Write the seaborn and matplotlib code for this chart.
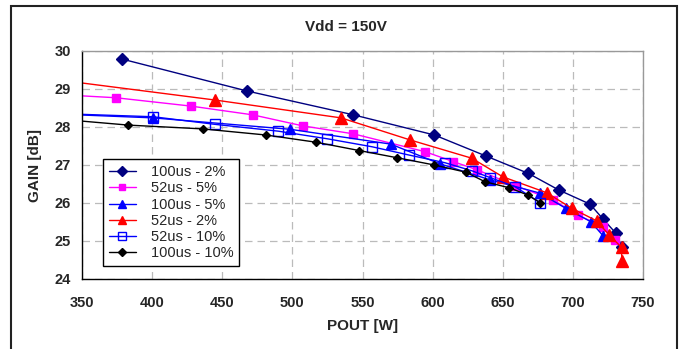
import matplotlib
matplotlib.use("Agg")
import matplotlib.pyplot as plt
import seaborn as sns
import pandas as pd
from matplotlib.patches import Rectangle

# ---- data ----
pout_100us_2 = [378.3, 467.4, 543.5, 601.2, 637.8, 668.2, 690.1, 712.2, 721.7, 730.8, 734.8]
gain_100us_2 = [29.79, 28.95, 28.32, 27.79, 27.24, 26.78, 26.34, 25.97, 25.57, 25.20, 24.85]

pout_52us_5 = [330.0, 374.2, 427.7, 471.7, 507.4, 543.5, 594.6, 614.7, 631.9, 659.5, 686.0, 703.6, 721.3, 730.0]
gain_52us_5 = [28.86, 28.77, 28.55, 28.32, 28.03, 27.82, 27.35, 27.09, 26.87, 26.45, 26.08, 25.68, 25.38, 25.02]

pout_100us_5 = [320.0, 400.8, 498.3, 570.1, 605.3, 640.9, 676.6, 694.9, 712.7, 721.7]
gain_100us_5 = [28.36, 28.24, 27.94, 27.55, 27.03, 26.61, 26.26, 25.86, 25.51, 25.13]

pout_52us_2 = [320.0, 444.8, 534.7, 583.9, 627.8, 650.0, 681.3, 699.2, 717.0, 725.8, 734.8, 734.8]
gain_52us_2 = [29.30, 28.71, 28.24, 27.66, 27.18, 26.69, 26.27, 25.86, 25.53, 25.16, 24.83, 24.47]

pout_52us_10 = [320.0, 400.8, 444.8, 490.0, 524.9, 556.8, 583.4, 608.8, 627.8, 640.9, 658.7, 676.6]
gain_52us_10 = [28.37, 28.27, 28.07, 27.89, 27.69, 27.48, 27.26, 27.06, 26.85, 26.67, 26.43, 26.01]

pout_100us_10 = [320.0, 383.0, 436.1, 481.0, 516.8, 547.7, 574.8, 601.2, 623.8, 637.3, 654.7, 667.8, 676.6]
gain_100us_10 = [28.25, 28.05, 27.95, 27.79, 27.60, 27.38, 27.19, 27.00, 26.81, 26.56, 26.40, 26.21, 26.01]

series_names = ["100us - 2%", "52us - 5%", "100us - 5%", "52us - 2%", "52us - 10%", "100us - 10%"]
x_ticks = [350, 400, 450, 500, 550, 600, 650, 700, 750]
y_ticks = [24, 25, 26, 27, 28, 29, 30]

frames = []
for name, xs, ys in zip(series_names,
                        [pout_100us_2, pout_52us_5, pout_100us_5, pout_52us_2, pout_52us_10, pout_100us_10],
                        [gain_100us_2, gain_52us_5, gain_100us_5, gain_52us_2, gain_52us_10, gain_100us_10]):
    frames.append(pd.DataFrame({"series": name, "POUT": xs, "GAIN": ys}))
df = pd.concat(frames, ignore_index=True)

styles = {
    "100us - 2%": dict(color="#000080", marker="D", ms=6, mfc="#000080", mec="#000080"),
    "52us - 5%": dict(color="#FF00FF", marker="s", ms=6, mfc="#FF00FF", mec="#FF00FF"),
    "100us - 5%": dict(color="#0000FF", marker="^", ms=6.5, mfc="#0000FF", mec="#0000FF"),
    "52us - 2%": dict(color="#FF0000", marker="^", ms=8, mfc="#FF0000", mec="#FF0000"),
    "52us - 10%": dict(color="#0000FF", marker="s", ms=6.5, mfc="none", mec="#0000FF"),
    "100us - 10%": dict(color="#000000", marker="D", ms=4.5, mfc="#000000", mec="#000000"),
}

sns.set_theme(style="white")
plt.rcParams["font.family"] = ["Liberation Sans", "DejaVu Sans"]

fig = plt.figure(figsize=(6.83, 3.49), dpi=100)
ax = fig.add_axes([82 / 683, 70 / 349, 561 / 683, 228 / 349])

for name in series_names:
    st = styles[name]
    sub = df[df["series"] == name]
    sns.lineplot(data=sub, x="POUT", y="GAIN", ax=ax, sort=False, estimator=None,
                 color=st["color"], marker=st["marker"], markersize=st["ms"],
                 markerfacecolor=st["mfc"], markeredgecolor=st["mec"], markeredgewidth=1.0,
                 linewidth=1.0, label=name)

ax.set_xlim(350, 750)
ax.set_ylim(24, 30)
ax.set_xticks(x_ticks)
ax.set_yticks(y_ticks)
ax.set_xticklabels([str(v) for v in x_ticks], fontweight="bold", fontsize=10.5)
ax.set_yticklabels([str(v) for v in y_ticks], fontweight="bold", fontsize=10.5)
ax.tick_params(axis="both", direction="out", length=4, width=0.8, color="black", pad=8)
ax.tick_params(axis="y", pad=4)
ax.grid(True, color="#BBBBBB", linestyle=(0, (6, 4)), linewidth=0.9)
ax.set_axisbelow(True)

for side in ["top", "right"]:
    ax.spines[side].set_color("#999999")
    ax.spines[side].set_linewidth(1.0)
for side in ["left", "bottom"]:
    ax.spines[side].set_color("black")
    ax.spines[side].set_linewidth(1.0)

ax.set_xlabel("POUT [W]", fontweight="bold", fontsize=11, labelpad=7)
ax.set_ylabel("GAIN [dB]", fontweight="bold", fontsize=11, labelpad=9)

fig.text(346 / 683, 1 - 27 / 349, "Vdd = 150V", ha="center", va="center",
         fontweight="bold", fontsize=11)

leg = ax.legend(loc="lower left", bbox_to_anchor=(0.037, 0.057), borderaxespad=0,
                frameon=True, fancybox=False, edgecolor="black", fontsize=10.5,
                handlelength=1.9, labelspacing=0.15, borderpad=0.4, handletextpad=1.0,
                framealpha=1, markerscale=0.8)
leg.get_frame().set_linewidth(1.0)

fig.patches.append(Rectangle((11 / 683, -0.05), 666 / 683, 1.05 - 6 / 349,
                             transform=fig.transFigure, fill=False,
                             edgecolor="#222222", linewidth=1.5, zorder=10))

fig.savefig("out.png", dpi=100)
